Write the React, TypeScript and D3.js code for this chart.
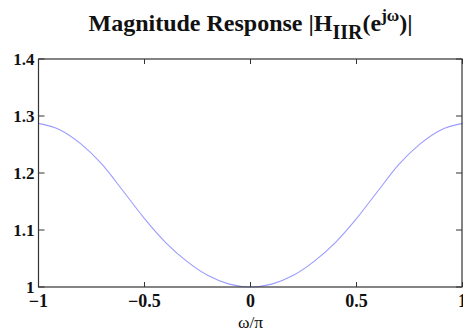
import React from "react";
import * as d3 from "d3";

const omega = [-1, -0.9, -0.8, -0.7, -0.6, -0.5, -0.4, -0.3, -0.2, -0.1, 0, 0.1, 0.2, 0.3, 0.4, 0.5, 0.6, 0.7, 0.8, 0.9, 1];
const magnitude = [1.287, 1.276, 1.251, 1.215, 1.168, 1.12, 1.078, 1.045, 1.02, 1.005, 1.0, 1.005, 1.02, 1.045, 1.078, 1.12, 1.168, 1.215, 1.251, 1.276, 1.287];
const xTicks = [-1, -0.5, 0, 0.5, 1];
const xTickLabels = ["\u22121", "\u22120.5", "0", "0.5", "1"];
const yTicks = [1, 1.1, 1.2, 1.3, 1.4];
const yTickLabels = ["1", "1.1", "1.2", "1.3", "1.4"];

const W = 463;
const H = 331;
const left = 38.5;
const right = 462.5;
const top = 59;
const bottom = 287;
const font = "'Liberation Serif', 'Times New Roman', Times, serif";
const axisColor = "#333";
const tickLen = 5;

export default function App() {
  const x = d3.scaleLinear().domain([-1, 1]).range([left, right]);
  const y = d3.scaleLinear().domain([1, 1.4]).range([bottom, top]);
  const pts = omega.map((w, i) => [w, magnitude[i]] as [number, number]);
  const line = d3
    .line<[number, number]>()
    .x((d) => x(d[0]))
    .y((d) => y(d[1]))
    .curve(d3.curveMonotoneX);

  return (
    <svg
      width={W}
      height={H}
      style={{ position: "absolute", left: 0, top: 0, background: "#fff" }}
    >
      <text
        x={x(0)}
        y={31}
        textAnchor="middle"
        fontFamily={font}
        fontWeight="bold"
        fontSize={24}
        fill="#111"
      >
        <tspan>Magnitude Response |H</tspan>
        <tspan dy={8} fontSize={20}>IIR</tspan>
        <tspan dy={-8}>(e</tspan>
        <tspan dy={-10} fontSize={17}>j&#969;</tspan>
        <tspan dy={10}>)|</tspan>
      </text>

      <path d={line(pts) || ""} fill="none" stroke="#9c9cff" strokeWidth={1.1} />

      <rect
        x={left}
        y={top}
        width={right - left - 0.5}
        height={bottom - top}
        fill="none"
        stroke={axisColor}
        strokeWidth={1.2}
      />

      {xTicks.map((t, i) => (
        <g key={"x" + i}>
          <line x1={x(t)} x2={x(t)} y1={bottom} y2={bottom - tickLen} stroke={axisColor} strokeWidth={1} />
          <line x1={x(t)} x2={x(t)} y1={top} y2={top + tickLen} stroke={axisColor} strokeWidth={1} />
          <text
            x={x(t)}
            y={307}
            textAnchor="middle"
            fontFamily={font}
            fontWeight="bold"
            fontSize={18}
            fill="#111"
          >
            {xTickLabels[i]}
          </text>
        </g>
      ))}

      {yTicks.map((t, i) => (
        <g key={"y" + i}>
          <line x1={left} x2={left + tickLen + 1} y1={y(t)} y2={y(t)} stroke={axisColor} strokeWidth={1} />
          <line x1={right - 0.5} x2={right - 0.5 - tickLen - 1} y1={y(t)} y2={y(t)} stroke={axisColor} strokeWidth={1} />
          <text
            x={34.5}
            y={y(t)}
            dy="0.35em"
            textAnchor="end"
            fontFamily={font}
            fontWeight="bold"
            fontSize={17}
            fill="#111"
          >
            {yTickLabels[i]}
          </text>
        </g>
      ))}

      <text
        x={x(0)}
        y={327.5}
        textAnchor="middle"
        fontFamily={font}
        fontSize={17.5}
        fill="#111"
      >
        &#969;/&#960;
      </text>
    </svg>
  );
}
